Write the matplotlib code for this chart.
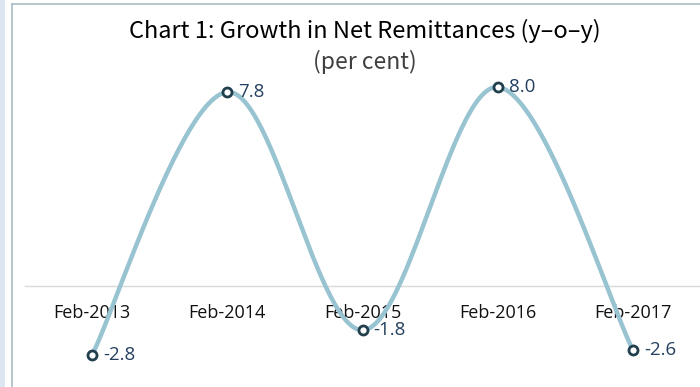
import numpy as np
import matplotlib.pyplot as plt
from matplotlib.patches import Rectangle
from matplotlib.lines import Line2D

# data
categories = ['Feb-2013', 'Feb-2014', 'Feb-2015', 'Feb-2016', 'Feb-2017']
growth = [-2.8, 7.8, -1.8, 8.0, -2.6]
labels = ['-2.8', '7.8', '-1.8', '8.0', '-2.6']

W, H = 700, 387
fig = plt.figure(figsize=(W / 100, H / 100), dpi=100)

# frame decoration: light blue strip and thin border
fig.patches.append(Rectangle((0, 0), 5 / W, 1, transform=fig.transFigure,
                             facecolor='#DCE6F2', edgecolor='none'))
fig.lines.append(Line2D([11.5 / W, 11.5 / W], [0, 1 - 3.5 / H], transform=fig.transFigure,
                        color='#A9BCC4', lw=1.2))
fig.lines.append(Line2D([11.5 / W, 1], [1 - 3.5 / H, 1 - 3.5 / H], transform=fig.transFigure,
                        color='#A9BCC4', lw=1.2))

# axes placed so zero line sits at y=285.5 px, 24.8 px per unit
y0, ppu = 285.5, 24.8
ylo, yhi = -4, 9
bottom_px = y0 + (-ylo) * ppu
top_px = y0 - yhi * ppu
ax = fig.add_axes([24.5 / W, 1 - bottom_px / H, 676 / W, (bottom_px - top_px) / H])
ax.set_xlim(-0.5, 4.5)
ax.set_ylim(ylo, yhi)

x = np.arange(len(growth))
y = np.array(growth)

# Excel-style smoothed line (Catmull-Rom through the points)
px = np.concatenate([[x[0]], x, [x[-1]]])
py = np.concatenate([[y[0]], y, [y[-1]]])
cx, cy = [], []
t = np.linspace(0, 1, 60)
for i in range(1, len(px) - 2):
    p0, p1, p2, p3 = (px[i - 1], py[i - 1]), (px[i], py[i]), (px[i + 1], py[i + 1]), (px[i + 2], py[i + 2])
    b1 = (p1[0] + (p2[0] - p0[0]) / 6, p1[1] + (p2[1] - p0[1]) / 6)
    b2 = (p2[0] - (p3[0] - p1[0]) / 6, p2[1] - (p3[1] - p1[1]) / 6)
    for k, store in ((0, cx), (1, cy)):
        store.extend((1 - t) ** 3 * p1[k] + 3 * (1 - t) ** 2 * t * b1[k]
                     + 3 * (1 - t) * t ** 2 * b2[k] + t ** 3 * p2[k])
ax.plot(cx, cy, color='#98C3D1', lw=3.2, solid_capstyle='round', zorder=3)
ax.plot(x, y, ls='none', marker='o', ms=6.5, mfc='white', mec='#213F4C', mew=2, zorder=4)

for xi, yi, lab in zip(x, y, labels):
    ax.annotate(lab, (xi, yi), xytext=(8, 0), textcoords='offset points',
                ha='left', va='center', fontsize=13.5, color='#243F60',
                family='Open Sans')

# category axis at zero
for s in ['top', 'right', 'left']:
    ax.spines[s].set_visible(False)
ax.spines['bottom'].set_position(('data', 0))
ax.spines['bottom'].set_color('#D9D9D9')
ax.spines['bottom'].set_linewidth(1)
ax.set_yticks([])
ax.set_xticks(x)
ax.set_xticklabels(categories, fontsize=13, family='Open Sans', color='#111111')
ax.tick_params(axis='x', length=0, pad=13)
ax.patch.set_alpha(0)

fig.text(365 / W, 1 - 38 / H, 'Chart 1: Growth in Net Remittances (y\u2013o\u2013y)',
         ha='center', va='baseline', fontsize=17, family='Noto Sans CJK KR')
fig.text(365 / W, 1 - 69 / H, '(per cent)', ha='center', va='baseline',
         fontsize=16.5, color='#404040', family='Noto Sans CJK KR')

fig.savefig('out.png', dpi=100)
